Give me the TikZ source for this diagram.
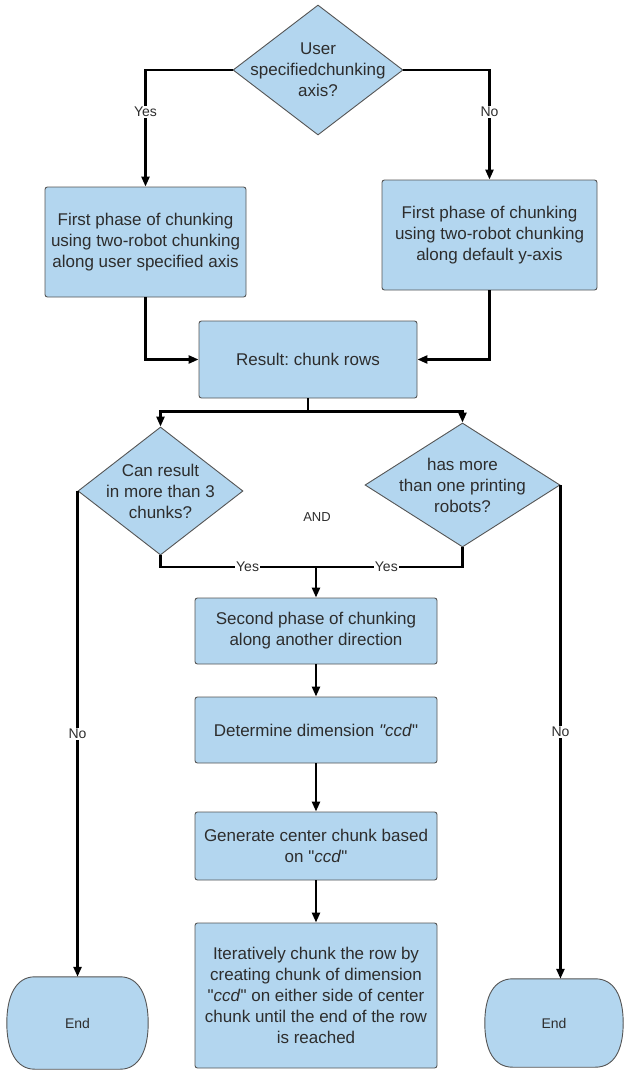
\documentclass[tikz,border=0pt]{standalone}
\usepackage{fontspec}
\setmainfont{Liberation Sans}
\usetikzlibrary{shapes.geometric,arrows.meta,calc,backgrounds}
\definecolor{boxfill}{RGB}{179,214,239}
\definecolor{boxline}{RGB}{85,85,85}
\definecolor{txt}{RGB}{45,45,45}

\tikzset{
  base/.style={draw=boxline, fill=boxfill, line width=0.9pt, text=txt,
    font=\fontsize{17}{21}\selectfont, align=center, inner sep=0pt},
  stepbox/.style={base, rectangle, rounded corners=2.5pt},
  dia/.style={base, diamond},
  term/.style={rectangle, inner sep=0pt, text=txt, font=\fontsize{14}{16}\selectfont},
  conn/.style={line width=2.4pt, black},
  arr/.style={conn, -{Triangle[length=10pt,width=8pt]}},
  lab/.style={fill=white, inner sep=1pt, text=txt, font=\fontsize{14}{16}\selectfont},
  qtext/.style={text=txt, font=\fontsize{17}{21}\selectfont, align=center},
}

% terminator outline: flat top and bottom, bulging sides
\newcommand\termoutline[1]{%
  \draw[base] ($(#1.north west)+(28,0)$) -- ($(#1.north east)+(-28,0)$)
    .. controls ($(#1.north east)+(-9,0)$) and ($(#1.east)+(0,-27)$) .. (#1.east)
    .. controls ($(#1.east)+(0,27)$) and ($(#1.south east)+(-9,0)$) .. ($(#1.south east)+(-28,0)$)
    -- ($(#1.south west)+(28,0)$)
    .. controls ($(#1.south west)+(9,0)$) and ($(#1.west)+(0,27)$) .. (#1.west)
    .. controls ($(#1.west)+(0,-27)$) and ($(#1.north west)+(9,0)$) .. cycle;}

\begin{document}
\frenchspacing
\begin{tikzpicture}[x=1pt, y=-1pt]
  \begin{pgfonlayer}{background}
    \fill[white] (0,0) rectangle (625,1074);
  \end{pgfonlayer}
  \useasboundingbox (0,0) rectangle (625,1074);

  % decision on the chunking axis
  \node[dia, minimum width=170pt, minimum height=130pt,
        label={[qtext]center:User\\specifiedchunking\\axis?}] (q1) at (318,70) {};

  % first phase boxes
  \node[stepbox, minimum width=201pt, minimum height=110pt] (leftA) at (145.5,242)
    {First phase of chunking\\using two-robot chunking\\along user specified axis};
  \node[stepbox, minimum width=215pt, minimum height=110pt] (rightA) at (489.5,235)
    {First phase of chunking\\using two-robot chunking\\along default y-axis};

  \node[stepbox, minimum width=218pt, minimum height=77pt] (result) at (308,359.5)
    {Result: chunk rows};

  % the two conditions
  \node[dia, minimum width=165pt, minimum height=128pt,
        label={[qtext]center:Can result\\in more than 3\\chunks?}] (q2) at (160.5,491) {};
  \node[dia, minimum width=195pt, minimum height=124pt,
        label={[qtext]center:has more\\than one printing\\robots?}] (q3) at (462.5,485) {};
  \node[text=txt, font=\fontsize{13}{15}\selectfont] (andlab) at (317,517) {AND};

  % second phase
  \node[stepbox, minimum width=242pt, minimum height=66pt] (second) at (316,631)
    {Second phase of chunking\\along another direction};
  \node[stepbox, minimum width=242pt, minimum height=66pt] (determine) at (316,730)
    {Determine dimension \textit{\textquotedbl ccd}\textquotedbl};
  \node[stepbox, minimum width=242pt, minimum height=68pt] (generate) at (316,846)
    {Generate center chunk based\\on \textquotedbl\textit{ccd}\textquotedbl};
  \node[stepbox, minimum width=242pt, minimum height=145pt] (iterate) at (316,995.5)
    {Iteratively chunk the row by\\creating chunk of dimension\\\textquotedbl\textit{ccd}\textquotedbl{} on either side of center\\chunk until the end of the row\\is reached};

  % terminators
  \node[term, minimum width=141pt, minimum height=92pt] (endL) at (77.5,1023) {End};
  \node[term, minimum width=138pt, minimum height=88pt] (endR) at (554,1023) {End};
  \begin{pgfonlayer}{background}
    \termoutline{endL}
    \termoutline{endR}
  \end{pgfonlayer}

  % connectors
  \draw[arr] (q1.west) -| (leftA.north) node[lab, pos=0.68] {Yes};
  \draw[arr] (q1.east) -| (rightA.north) node[lab, pos=0.69] {No};
  \draw[arr] (leftA.south) |- (result.west);
  \draw[arr] (rightA.south) |- (result.east);

  \path (result.south) ++(0,13) coordinate (split);
  \draw[conn] (result.south) -- (split);
  \draw[arr] (split) -| (q2.north);
  \draw[arr] (split) -| (q3.north);

  \coordinate (join) at (316,567);
  \draw[conn] (q2.south) |- (join) node[lab, pos=0.78] {Yes};
  \draw[conn] (q3.south) |- (join) node[lab, pos=0.76] {Yes};
  \draw[arr] (join) -- (second.north);

  \draw[arr] (q2.west) -- (q2.west |- endL.north) node[lab, pos=0.5] {No};
  \draw[arr] (q3.east) -- (q3.east |- endR.north) node[lab, pos=0.5] {No};

  \draw[arr] (second) -- (determine);
  \draw[arr] (determine) -- (generate);
  \draw[arr] (generate) -- (iterate);
\end{tikzpicture}
\end{document}
